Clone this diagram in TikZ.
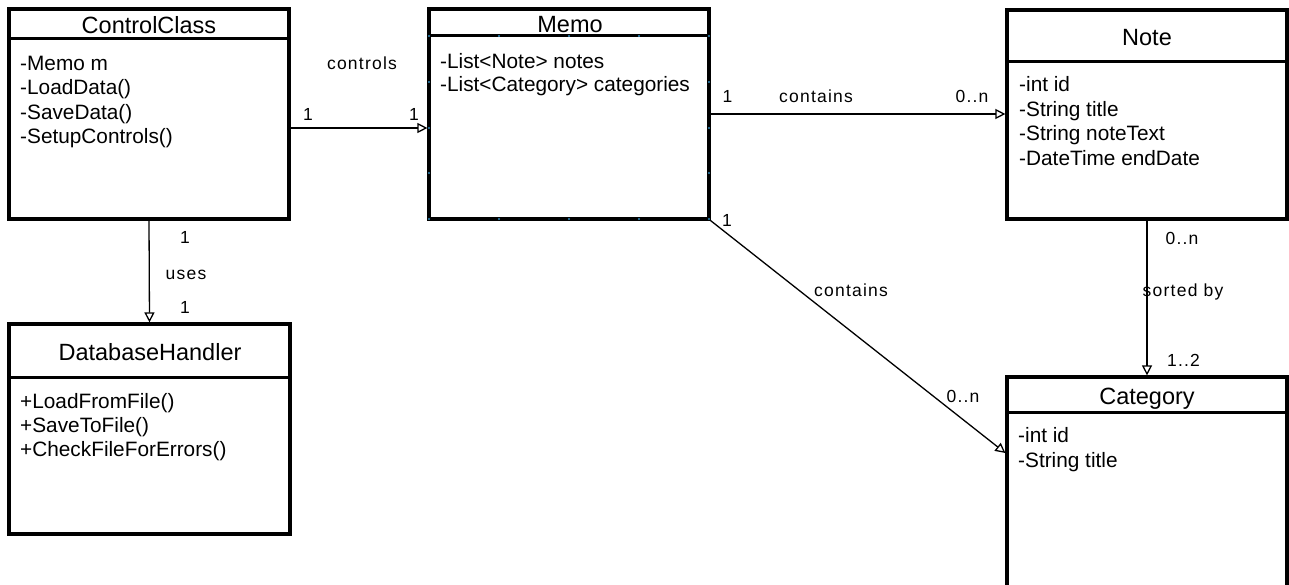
\documentclass[tikz,border=0pt]{standalone}
\usepackage{fontspec}
\setmainfont{Liberation Sans}
\newfontfamily\lblfamily[LetterSpace=7]{Liberation Sans}
\usetikzlibrary{arrows.meta}
\definecolor{handleblue}{RGB}{50,140,190}

\tikzset{
  classbox/.style={draw, line width=3.2pt, rectangle, inner sep=0pt, fill=white},
  divider/.style={line width=3pt},
  titletext/.style={anchor=base, inner sep=0pt, font=\fontsize{23.5}{26}\selectfont},
  attr/.style={anchor=base west, inner sep=0pt, font=\fontsize{20.8}{24}\selectfont},
  lbl/.style={anchor=base, inner sep=0pt, font=\lblfamily\fontsize{17.5}{20}\selectfont},
  assoc/.style={line width=1.3pt, -{Triangle[open, length=10pt, width=10pt, line width=1.3pt]}},
  handle/.style={fill=handleblue}
}

\begin{document}
\begin{tikzpicture}[x=1pt, y=-1pt]
  \useasboundingbox (0,0) rectangle (1289,585);
  \fill[white] (0,0) rectangle (1289,585);
  \clip (0,0) rectangle (1289,585);

  % ---------- class boxes ----------
  \node[classbox, minimum width=280pt, minimum height=210pt] (cc)   at (149,114)   {};
  \node[classbox, minimum width=280pt, minimum height=210pt] (memo) at (569,114)   {};
  \node[classbox, minimum width=280pt, minimum height=209pt] (note) at (1147,114.5) {};
  \node[classbox, minimum width=281pt, minimum height=210pt] (dh)   at (149.5,429) {};
  \node[classbox, minimum width=280pt, minimum height=223pt] (cat)  at (1147,488.5) {};

  % compartment dividers
  \draw[divider] (cc.west |- 0,39)    -- (cc.east |- 0,39);
  \draw[divider] (memo.west |- 0,36)  -- (memo.east |- 0,36);
  \draw[divider] (note.west |- 0,62)  -- (note.east |- 0,62);
  \draw[divider] (dh.west |- 0,377)   -- (dh.east |- 0,377);
  \draw[divider] (cat.west |- 0,412)  -- (cat.east |- 0,412);

  % ---------- class names ----------
  \node[titletext] (cc-title)   at (149,33.3)   {ControlClass};
  \node[titletext] (memo-title) at (570,32.3)   {Memo};
  \node[titletext] (note-title) at (1147,45.7)  {Note};
  \node[titletext] (dh-title)   at (150,360.7)  {DatabaseHandler};
  \node[titletext] (cat-title)  at (1147,404)   {Category};

  % ---------- members ----------
  \foreach \t [count=\i] in {{-Memo m},{-LoadData()},{-SaveData()},{-SetupControls()}}
    \node[attr, name=cc-m\i] at (20,{70.7+24.3*(\i-1)}) {\t};
  \foreach \t [count=\i] in {{-List<Note> notes},{-List<Category> categories}}
    \node[attr, name=memo-m\i] at (440,{68.3+23.6*(\i-1)}) {\t};
  \foreach \t [count=\i] in {{-int id},{-String title},{-String noteText},{-DateTime endDate}}
    \node[attr, name=note-m\i] at (1019,{91.7+24.6*(\i-1)}) {\t};
  \foreach \t [count=\i] in {{+LoadFromFile()},{+SaveToFile()},{+CheckFileForErrors()}}
    \node[attr, name=dh-m\i] at (20,{408.3+24.2*(\i-1)}) {\t};
  \foreach \t [count=\i] in {{-int id},{-String title}}
    \node[attr, name=cat-m\i] at (1018,{442.3+25*(\i-1)}) {\t};

  % selection handles on Memo
  \foreach \x in {429,499,569,639,709} {
    \fill[handle] (\x,36) circle (1.2pt);
    \fill[handle] (\x,219) circle (1.2pt);
  }
  \foreach \y in {82,128,173} {
    \fill[handle] (429,\y) circle (1.2pt);
    \fill[handle] (709,\y) circle (1.2pt);
  }

  % ---------- associations ----------
  \draw[assoc] ([yshift=-14pt]cc.east) -- ([yshift=-14pt]memo.west);
  \draw[assoc] (cc.south) -- (dh.north);
  \draw[assoc] (memo.east) -- (note.west |- memo.east);
  \draw[assoc] (memo.south east) -- ([yshift=35.5pt]cat.west);
  \draw[assoc] (note.south) -- (cat.north);

  % ---------- association labels ----------
  \node[lbl] (l-controls) at (362,70)    {controls};
  \node[lbl] (l-cc1)      at (308,120.7) {1};
  \node[lbl] (l-memo1)    at (414,120.7) {1};

  \node[lbl] (l-uses1a)   at (185,243.3) {1};
  \node[lbl] (l-uses)     at (186,279.3) {uses};
  \node[lbl] (l-uses1b)   at (185,313.3) {1};

  \node[lbl] (l-n1)       at (727.5,102.7) {1};
  \node[lbl] (l-ncont)    at (816,102.7)   {contains};
  \node[lbl] (l-n0n)      at (972,102.7)   {0..n};

  \node[lbl] (l-c1)       at (727,226)   {1};
  \node[lbl] (l-ccont)    at (851,296.7) {contains};
  \node[lbl] (l-c0n)      at (963,402.3) {0..n};

  \node[lbl] (l-s0n)      at (1182,244)   {0..n};
  \node[lbl] (l-sorted)   at (1183,296.7) {sorted by};
  \node[lbl] (l-s12)      at (1183.5,366.7) {1..2};
\end{tikzpicture}
\end{document}
